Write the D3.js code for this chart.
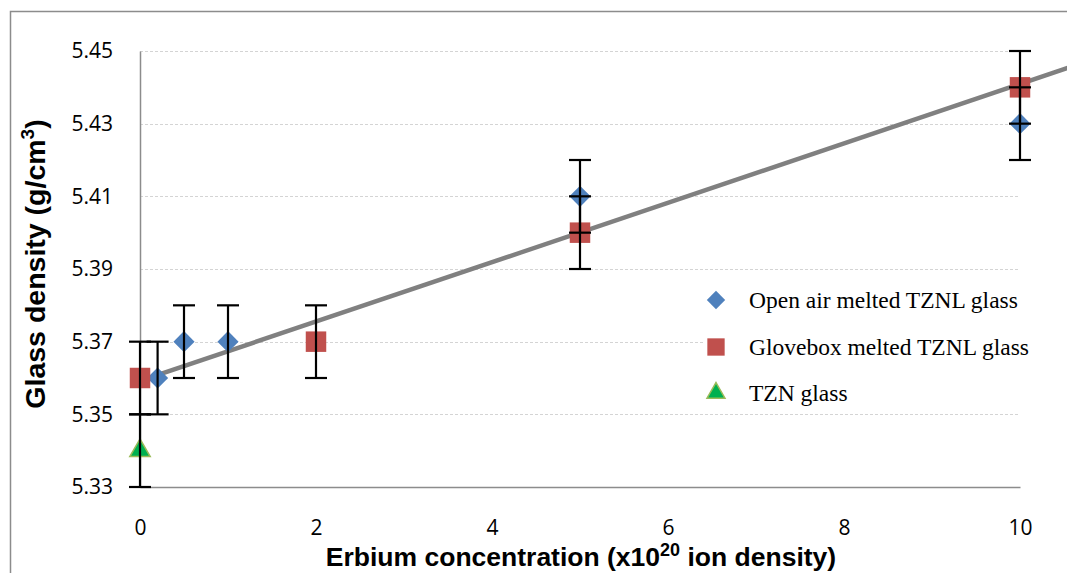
<!DOCTYPE html>
<html><head><meta charset="utf-8">
<script src="https://cdn.jsdelivr.net/npm/d3@7"></script>
<style>html,body{margin:0;padding:0;background:#fff;}svg{display:block;}</style>
</head><body>
<svg id="chart" width="1067" height="573"></svg>
<script>
// ---- data ----
const openAirX = [0.2, 0.5, 1, 5, 10];
const openAirY = [5.36, 5.37, 5.37, 5.41, 5.43];
const gloveboxX = [0, 2, 5, 10];
const gloveboxY = [5.36, 5.37, 5.40, 5.44];
const tznX = [0];
const tznY = [5.34];
const errorAmount = 0.01;
const trendX = [0, 10.6];
const trendY = [5.3592, 5.4458];
const xTicks = [0, 2, 4, 6, 8, 10];
const yTicks = [5.33, 5.35, 5.37, 5.39, 5.41, 5.43, 5.45];
const legendLabels = ["Open air melted TZNL glass", "Glovebox melted TZNL glass", "TZN glass"];

const svg = d3.select("#chart");
const x = d3.scaleLinear().domain([0, 10]).range([140, 1020]);
const y = d3.scaleLinear().domain([5.33, 5.45]).range([487, 51]);

// outer frame
svg.append("path").attr("d", "M10.5,573 L10.5,11.5 L1067,11.5")
  .attr("fill", "none").attr("stroke", "#8c8c8c").attr("stroke-width", 1.5);

// gridlines
svg.append("g").selectAll("line").data(yTicks.slice(1)).join("line")
  .attr("x1", 140).attr("x2", 1020)
  .attr("y1", d => Math.round(y(d)) + 0.5).attr("y2", d => Math.round(y(d)) + 0.5)
  .attr("stroke", "#d4d4d4").attr("stroke-width", 1).attr("stroke-dasharray", "3,2");

// axes
const yAxis = d3.axisLeft(y).tickValues(yTicks).tickSize(0).tickPadding(27).tickFormat(d3.format(".2f"));
const gy = svg.append("g").attr("transform", "translate(140,0)").call(yAxis);
gy.select(".domain").attr("stroke", "#8c8c8c").attr("stroke-width", 1.5);
gy.selectAll("text").attr("font-family", "Open Sans, sans-serif").attr("font-size", 21).attr("fill", "#000");

const xAxis = d3.axisBottom(x).tickValues(xTicks).tickSize(0).tickPadding(33).tickFormat(d3.format("d"));
const gx = svg.append("g").attr("transform", "translate(0,487)").call(xAxis);
gx.select(".domain").attr("stroke", "#8c8c8c").attr("stroke-width", 1.5);
gx.selectAll("text").attr("font-family", "Open Sans, sans-serif").attr("font-size", 21).attr("fill", "#000");

// legend background (covers gridlines)
svg.append("rect").attr("x", 704).attr("y", 278).attr("width", 346).attr("height", 134).attr("fill", "#fff");

// trend line
svg.append("line")
  .attr("x1", x(trendX[0])).attr("y1", y(trendY[0]))
  .attr("x2", x(trendX[1])).attr("y2", y(trendY[1]))
  .attr("stroke", "#808080").attr("stroke-width", 4.5);

// markers
const sym = (type, size) => d3.symbol().type(type).size(size)();
function drawSeries(xs, ys, type, size, fill, stroke) {
  const g = svg.append("g");
  g.selectAll("path").data(xs.map((d, i) => [d, ys[i]])).join("path")
    .attr("d", sym(type, size))
    .attr("transform", d => `translate(${x(d[0])},${y(d[1])})`)
    .attr("fill", fill).attr("stroke", stroke).attr("stroke-width", stroke === "none" ? 0 : 1.5);
}
drawSeries(openAirX, openAirY, d3.symbolDiamond2, 285, "#4F81BD", "none");
drawSeries(gloveboxX, gloveboxY, d3.symbolSquare, 420, "#C0504D", "none");
drawSeries(tznX, tznY, d3.symbolTriangle, 180, "#00B050", "#9BBB59");

// error bars
function drawErr(xs, ys) {
  const g = svg.append("g").attr("stroke", "#000").attr("stroke-width", 2.2);
  xs.forEach((xv, i) => {
    const cx = x(xv), top = y(ys[i] + errorAmount), bot = y(ys[i] - errorAmount);
    g.append("line").attr("x1", cx).attr("x2", cx).attr("y1", top).attr("y2", bot);
    g.append("line").attr("x1", cx - 11).attr("x2", cx + 11).attr("y1", top).attr("y2", top);
    g.append("line").attr("x1", cx - 11).attr("x2", cx + 11).attr("y1", bot).attr("y2", bot);
  });
}
drawErr(openAirX, openAirY);
drawErr(gloveboxX, gloveboxY);
drawErr(tznX, tznY);

// legend
const legendMarkers = [
  {type: d3.symbolDiamond2, size: 215, fill: "#4F81BD", stroke: "none"},
  {type: d3.symbolSquare, size: 300, fill: "#C0504D", stroke: "none"},
  {type: d3.symbolTriangle, size: 140, fill: "#00B050", stroke: "#9BBB59"}
];
const legendY = [300, 347, 393];
legendLabels.forEach((lab, i) => {
  const m = legendMarkers[i];
  svg.append("path").attr("d", sym(m.type, m.size))
    .attr("transform", `translate(716,${legendY[i]})`)
    .attr("fill", m.fill).attr("stroke", m.stroke).attr("stroke-width", m.stroke === "none" ? 0 : 1.5);
  svg.append("text").attr("x", 749).attr("y", legendY[i]).attr("dy", "0.33em")
    .attr("font-family", "Liberation Serif, serif").attr("font-size", 23.5).attr("fill", "#000")
    .text(lab);
});

// axis titles
const xt = svg.append("text").attr("x", 581).attr("y", 566).attr("text-anchor", "middle")
  .attr("font-family", "Liberation Sans, Arial, sans-serif").attr("font-weight", "bold")
  .attr("font-size", 26.5).attr("fill", "#000");
xt.append("tspan").text("Erbium concentration (x10");
xt.append("tspan").attr("dy", -10).attr("font-size", 18).text("20");
xt.append("tspan").attr("dy", 10).text(" ion density)");

const yt = svg.append("text").attr("transform", "translate(45,264) rotate(-90)").attr("text-anchor", "middle")
  .attr("font-family", "Liberation Sans, Arial, sans-serif").attr("font-weight", "bold")
  .attr("font-size", 28.5).attr("fill", "#000");
yt.append("tspan").text("Glass density (g/cm");
yt.append("tspan").attr("dy", -11).attr("font-size", 19).text("3");
yt.append("tspan").attr("dy", 11).text(")");
</script>
</body></html>
